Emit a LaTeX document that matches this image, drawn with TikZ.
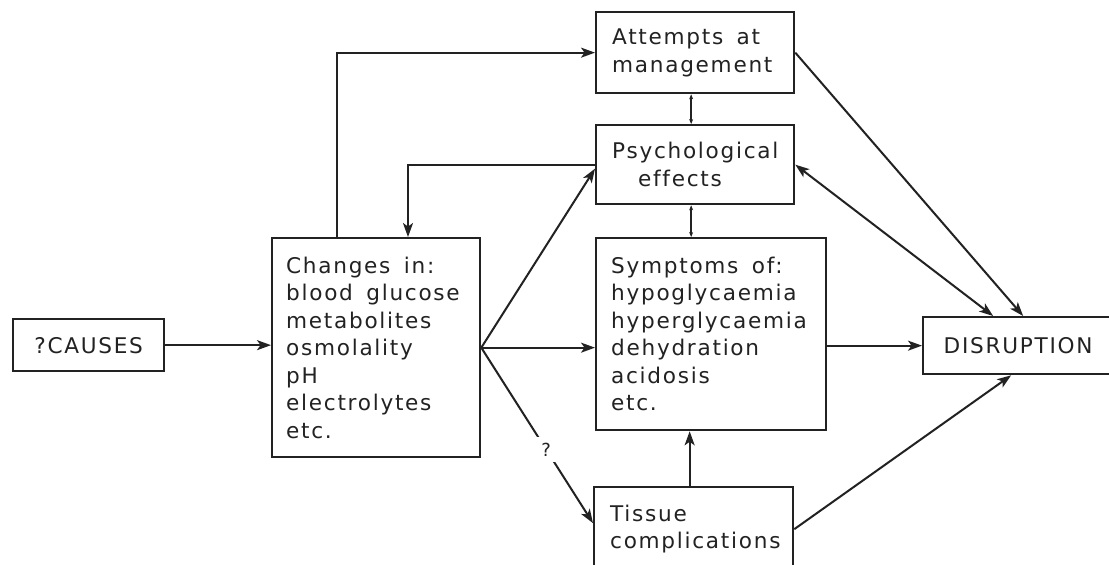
\documentclass[tikz,border=0pt]{standalone}
\usepackage{fontspec}
\setmainfont{DejaVu Sans}[LetterSpace=8, Ligatures={NoCommon}]
\usetikzlibrary{arrows.meta,calc}
\definecolor{ink}{HTML}{222222}
% wider word gap for the spaced-out lettering
\newcommand\wsp{\hspace*{0.62em}}
\begin{document}
\begin{tikzpicture}[x=0.5pt,y=-0.5pt,
  every node/.style={font=\fontsize{10.8pt}{13.75pt}\selectfont, text=ink},
  box/.style={draw=ink, line width=1.15pt, rectangle, anchor=north west,
    align=left, inner ysep=0pt},
  conn/.style={draw=ink, line width=1pt,
    -{Stealth[length=7pt,width=5pt,inset=1.8pt]}},
  mutual/.style={draw=ink, line width=1pt,
    {Stealth[length=7pt,width=5pt,inset=1.8pt]}-{Stealth[length=7pt,width=5pt,inset=1.8pt]}},
  tick/.style={draw=ink, line width=0.9pt,
    {Stealth[length=2.5pt,width=2pt]}-{Stealth[length=2.5pt,width=2pt]}}
]
\useasboundingbox (0,0) rectangle (1109,564);
\clip (0,0) rectangle (1109,564);
\fill[white] (0,0) rectangle (1109,564);

% boxes
\node[box, align=center, inner xsep=0pt, minimum width=75.5pt, minimum height=26pt]
  (causes) at (12,318) {?CAUSES};
\node[box, inner xsep=7pt, text width=90pt, minimum width=104pt, minimum height=109.5pt]
  (changes) at (271,237)
  {Changes\wsp in:\\blood\wsp glucose\\metabolites\\osmolality\\pH\\electrolytes\\etc.};
\node[box, inner xsep=8pt, text width=83pt, minimum width=99pt, minimum height=40.5pt]
  (attempts) at (595,11) {Attempts\wsp at\\management};
\node[box, inner xsep=8pt, text width=83pt, minimum width=99pt, minimum height=39.5pt]
  (psych) at (595,124) {Psychological\\\hspace*{13pt}effects};
\node[box, inner xsep=7.5pt, text width=100pt, minimum width=115pt, minimum height=96pt]
  (symptoms) at (595,237)
  {Symptoms\wsp of:\\hypoglycaemia\\hyperglycaemia\\dehydration\\acidosis\\etc.};
\node[box, inner xsep=8pt, text width=83.5pt, minimum width=99.5pt, minimum height=42pt]
  (tissue) at (593,486) {Tissue\\complications};
\node[box, align=center, inner xsep=0pt, minimum width=95pt, minimum height=28.5pt]
  (disruption) at (922,316) {DISRUPTION};

% connectors
\draw[conn] (causes.east) -- (causes.east -| changes.west);
\draw[conn] ([xshift=33pt]changes.north west) |- (attempts.west);
\draw[conn] (psych.west) -| ([xshift=68.5pt]changes.north west);
\draw[conn] (changes.east) -- ([yshift=-2pt]psych.west);
\draw[conn] (changes.east) -- (changes.east -| symptoms.west);
\draw[conn] (changes.east) --
  node[pos=0.58, fill=white, inner sep=3pt, font=\fontsize{9pt}{10pt}\selectfont] (q) {?}
  ([yshift=3pt]tissue.west);
\draw[conn] ([xshift=-2pt]tissue.north) -- ([xshift=-2pt]tissue.north |- symptoms.south);
\draw[tick] ([xshift=-2pt]attempts.south) -- ([xshift=-2pt]psych.north);
\draw[tick] ([xshift=-2pt]psych.south) -- ([xshift=-2pt]psych.south |- symptoms.north);
\draw[conn] (symptoms.east |- disruption.west) -- (disruption.west);
\draw[conn] (attempts.east) -- ([xshift=2.5pt]disruption.north);
\draw[mutual] (psych.east) -- ([xshift=-12.5pt]disruption.north);
\draw[conn] (tissue.east) -- ([xshift=-3.5pt]disruption.south);
\end{tikzpicture}
\end{document}
